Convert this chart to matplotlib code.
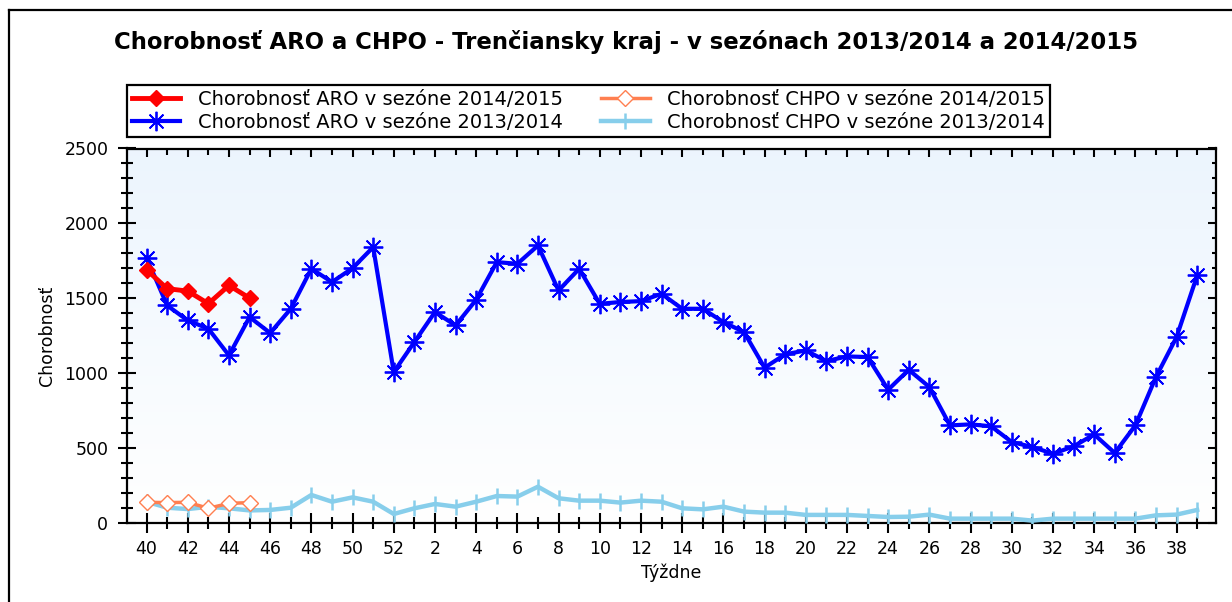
import numpy as np
import matplotlib
matplotlib.use("Agg")
import matplotlib.pyplot as plt
from matplotlib.lines import Line2D

weeks = [40, 41, 42, 43, 44, 45, 46, 47, 48, 49, 50, 51, 52] + list(range(1, 40))

aro_1415 = [1691, 1565, 1549, 1465, 1587, 1502]
chpo_1415 = [140, 138, 140, 100, 133, 138]
aro_1314 = [1771, 1453, 1353, 1298, 1120, 1376, 1269, 1431, 1698, 1609, 1702, 1842,
            1009, 1209, 1409, 1320, 1491, 1742, 1731, 1853, 1553, 1698, 1464, 1476,
            1482, 1531, 1431, 1431, 1342, 1276, 1038, 1127, 1153, 1082, 1113, 1109,
            891, 1024, 909, 653, 660, 647, 542, 509, 464, 513, 593, 469, 653, 976,
            1242, 1653]
chpo_1314 = [144, 104, 95, 110, 100, 86, 89, 104, 189, 144, 173, 144,
             62, 100, 129, 111, 144, 182, 178, 244, 167, 151, 151, 138,
             151, 144, 100, 93, 111, 78, 71, 71, 56, 56, 56, 49,
             42, 44, 58, 31, 31, 31, 31, 18, 31, 31, 31, 31, 31, 53,
             58, 89]

title = "Chorobnosť ARO a CHPO - Trenčiansky kraj - v sezónach 2013/2014 a 2014/2015"
labels = ["Chorobnosť ARO v sezóne 2014/2015", "Chorobnosť ARO v sezóne 2013/2014",
          "Chorobnosť CHPO v sezóne 2014/2015", "Chorobnosť CHPO v sezóne 2013/2014"]

plt.rcParams['font.family'] = ['DejaVu Sans']

W, H = 1232, 602
fig = plt.figure(figsize=(W / 100, H / 100), dpi=100)
ax = fig.add_axes([127 / W, 1 - 523.3 / H, (1215.7 - 127) / W, (523.3 - 148.5) / H])

x_all = np.arange(len(weeks))
x_new = np.arange(len(aro_1415))

ax.set_xlim(-0.95, 51.9)
ax.set_ylim(0, 2500)

# gradient background
grad = np.linspace(0, 1, 256).reshape(-1, 1)
top = np.array([0.925, 0.960, 0.995])
bot = np.array([1.0, 1.0, 1.0])
img = bot + (top - bot) * grad[..., None] * np.ones((1, 1, 3))
ax.imshow(img, extent=[-0.95, 51.9, 0, 2500], origin='lower', aspect='auto', zorder=0)

ax.plot(x_all, aro_1314, color='#0000ff', lw=3.0, marker=(8, 2, 0), ms=14, mew=1.3,
        mec='#0000ff', label=labels[1], zorder=3)
ax.plot(x_all, chpo_1314, color='#87ceeb', lw=3.2, marker='|', ms=12, mew=1.8,
        label=labels[3], zorder=3)
ax.plot(x_new, chpo_1415, color='#ff7f50', lw=2.5, marker='D', ms=8, mew=1.0,
        mfc='white', mec='#ff7f50', label=labels[2], zorder=4)
ax.plot(x_new, aro_1415, color='#ff0000', lw=3.5, marker='D', ms=8.5, mew=1.0,
        label=labels[0], zorder=5)

# ticks
major_idx = x_all[::2]
minor_idx = x_all[1::2]
ax.set_xticks(major_idx)
ax.set_xticklabels([str(weeks[i]) for i in major_idx])
ax.set_xticks(minor_idx, minor=True)
ax.set_yticks(np.arange(0, 2501, 500))
ax.set_yticks(np.arange(0, 2501, 100), minor=True)

fs = 12.5
ax.tick_params(axis='both', which='major', labelsize=fs, width=1.5, color='black')
ax.tick_params(axis='x', which='major', direction='inout', length=14, pad=5,
               top=True)
ax.tick_params(axis='x', which='minor', direction='inout', length=8, width=1.5, top=True)
ax.tick_params(axis='y', which='major', direction='inout', length=13, pad=7, right=True)
ax.tick_params(axis='y', which='minor', direction='inout', length=8, width=1.5, right=True)
for t in ax.xaxis.get_major_ticks() + ax.xaxis.get_minor_ticks():
    t.tick2line.set_marker(3)
for t in ax.yaxis.get_major_ticks() + ax.yaxis.get_minor_ticks():
    t.tick2line.set_marker(0)
for t in ax.xaxis.get_major_ticks():
    t.tick2line.set_markersize(6)
for t in ax.xaxis.get_minor_ticks():
    t.tick2line.set_markersize(4)
for t in ax.yaxis.get_major_ticks():
    t.tick2line.set_markersize(6)
for t in ax.yaxis.get_minor_ticks():
    t.tick2line.set_markersize(3)

for s in ax.spines.values():
    s.set_linewidth(1.6)
    s.set_color('black')

ax.set_xlabel("Týždne", fontsize=fs, labelpad=4)
ax.set_ylabel("Chorobnosť", fontsize=fs, labelpad=6)

# title
t = fig.text(626 / W, 1 - 42 / H, title, ha='center', va='center', fontsize=14,
             fontweight='bold')
fig.canvas.draw()
r = fig.canvas.get_renderer()
wdt = t.get_window_extent(r).width
t.set_fontsize(14 * 1027 / wdt)

# legend
h, l = ax.get_legend_handles_labels()
order = [labels[0], labels[1], labels[2], labels[3]]
hh = [h[l.index(o)] for o in order]
lfs = 14
leg = fig.legend(hh, order, loc='upper left', bbox_to_anchor=(127 / W, 1 - 85 / H),
                 ncol=2, fontsize=lfs, frameon=True, fancybox=False, borderaxespad=0,
                 handlelength=2.5, handletextpad=0.9, columnspacing=1.95,
                 borderpad=0.25, labelspacing=0.22)
fr = leg.get_frame()
fr.set_edgecolor('black')
fr.set_linewidth(1.6)
fr.set_alpha(1)

# figure frame (left/top)
fx, fy = 9 / W, 1 - 10 / H
fig.add_artist(Line2D([fx, fx], [0, fy], transform=fig.transFigure, color='black', lw=1.6))
fig.add_artist(Line2D([fx, 1], [fy, fy], transform=fig.transFigure, color='black', lw=1.6))

fig.savefig("out.png", dpi=100)
